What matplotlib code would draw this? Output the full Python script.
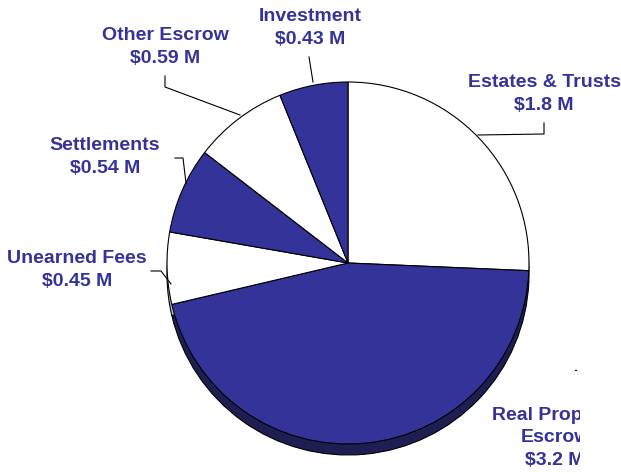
import matplotlib.pyplot as plt
from matplotlib import font_manager
from matplotlib.patches import Rectangle

names = ["Estates & Trusts", "Real Property\nEscrow", "Unearned Fees",
         "Settlements", "Other Escrow", "Investment"]
values = [1.8, 3.2, 0.45, 0.54, 0.59, 0.43]
value_labels = ["$1.8 M", "$3.2 M", "$0.45 M", "$0.54 M", "$0.59 M", "$0.43 M"]

blue = "#333399"
top_colors = ["white", blue, "white", blue, "white", blue]
side_colors = ["#bdbdc8", "#1e1e52", "#bdbdc8", "#1e1e52", "#bdbdc8", "#1e1e52"]

avail = {f.name for f in font_manager.fontManager.ttflist}
fam = ["Liberation Sans Narrow"] if "Liberation Sans Narrow" in avail else ["Liberation Sans", "DejaVu Sans"]
plt.rcParams['font.family'] = fam

W, H = 621, 474
fig = plt.figure(figsize=(W / 100, H / 100), dpi=100)
ax = fig.add_axes([0, 0, 1, 1])

def py(y):
    # pixel row -> data y
    return H - y

cx, cy, r, depth = 348, py(263), 181, 11

# side (depth) of the pie, drawn under the top face
ax.pie(values, colors=side_colors, startangle=90, counterclock=False,
       radius=r, center=(cx, cy - depth), frame=True,
       wedgeprops=dict(edgecolor="black", linewidth=0.8))
# top face
ax.pie(values, colors=top_colors, startangle=90, counterclock=False,
       radius=r, center=(cx, cy), frame=True,
       wedgeprops=dict(edgecolor="black", linewidth=0.8))

ax.set_xlim(0, W)
ax.set_ylim(0, H)
ax.set_aspect("equal")
ax.axis("off")

# label positions (pixel coords) and leader lines
label_pos = [(544, 94), (555, 438), (77, 270), (105, 157), (165, 47), (310, 28)]
leaders = [
    [(544, 123), (544, 134), (478, 135)],
    [],
    [(151, 271), (161, 271), (171, 284)],
    [(175, 158), (183, 158), (186, 183)],
    [(165, 76), (165, 87), (240, 115)],
    [(309, 57), (313, 82)],
]

# the Real Property label is cut off at the right in the original
clip = Rectangle((0, 0), 580, H, transform=ax.transData)
for i, (name, val, (x, y), pts) in enumerate(zip(names, value_labels, label_pos, leaders)):
    t = ax.text(x, py(y), name + "\n" + val.replace("$", r"\$"),
                ha="center", va="center", color=blue, fontsize=14,
                fontweight="bold", linespacing=1.4)
    if i == 1:
        t.set_clip_on(True)
        t.set_clip_path(clip)
    if pts:
        ax.plot([p[0] for p in pts], [py(p[1]) for p in pts],
                color="black", linewidth=0.8)

# small stub left near the Real Property label
ax.plot([575, 576], [py(370), py(370)], color="black", linewidth=0.8)

fig.savefig("out.png", dpi=100)
